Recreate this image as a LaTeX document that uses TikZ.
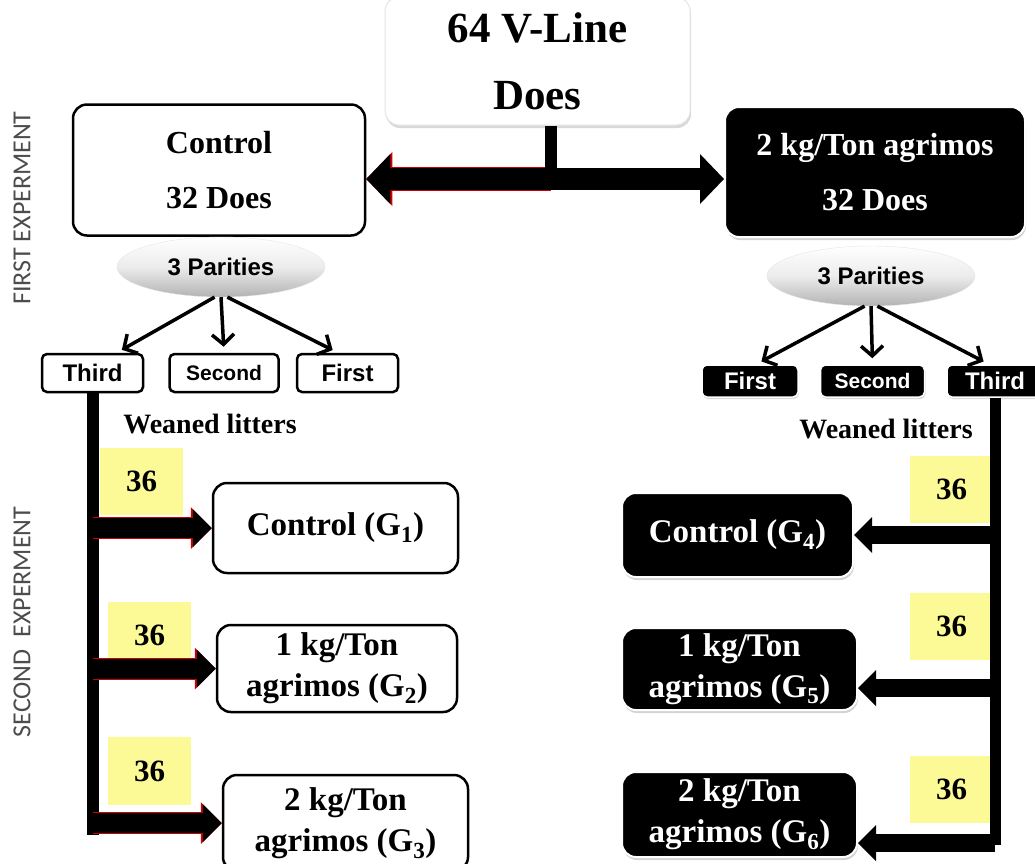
\documentclass[tikz,border=0pt]{standalone}
\usepackage{fontspec}
\setmainfont{Liberation Serif}
\setsansfont{Liberation Sans}
\newfontfamily\sidefont{Carlito}
\usepackage{tikz}
\usetikzlibrary{arrows.meta,shapes,positioning,shadows,calc}
\definecolor{numyellow}{RGB}{252,250,150}
\newcommand{\headfont}{\fontsize{43}{67}\selectfont\bfseries}
\newcommand{\boxfont}{\fontsize{32}{55}\selectfont\bfseries}
\newcommand{\grpfont}{\fontsize{33}{41}\selectfont\bfseries}
\newcommand{\tagfont}{\fontsize{24}{26}\selectfont\sffamily\bfseries}
\tikzset{
    whitebox/.style={draw, line width=2.5pt, rounded corners=14pt, fill=white, inner sep=0pt, align=center},
    blackbox/.style={draw=white, line width=2pt, rounded corners=14pt, fill=black, text=white, inner sep=0pt, align=center, drop shadow={opacity=0.35, shadow xshift=1pt, shadow yshift=-3pt}},
    parity/.style={ellipse, top color=white, bottom color=gray!60, middle color=gray!15, draw=gray!20, minimum width=208pt, minimum height=60pt, font=\fontsize{24}{26}\selectfont\sffamily\bfseries},
    wtag/.style={draw, line width=2.5pt, rounded corners=5pt, fill=white, minimum height=38pt, minimum width=101pt, inner sep=0pt, font=\tagfont},
    btag/.style={draw=white, line width=1.5pt, rounded corners=5pt, fill=black, text=white, minimum height=32pt, minimum width=96pt, inner sep=0pt, font=\tagfont, drop shadow={opacity=0.3, shadow xshift=1pt, shadow yshift=-2pt}},
    numbox/.style={fill=numyellow, minimum width=83pt, minimum height=67pt, inner sep=0pt, font=\fontsize{31}{32}\selectfont\bfseries},
    weaned/.style={font=\fontsize{28}{30}\selectfont\bfseries, inner sep=0pt},
    sidetext/.style={rotate=90, text=black!70, font=\sidefont\fontsize{26}{28}\selectfont},
    branch/.style={-{Straight Barb[length=10pt,width=22pt]}, line width=3.5pt, shorten >=6pt},
    fat/.style={line width=22pt, -{Triangle[length=24pt,width=50pt,line width=0pt]}},
    fatred/.style={fat, preaction={draw=red!80!black, line width=24pt, -{Triangle[length=26pt,width=54pt,line width=0pt]}}},
    slim/.style={line width=18pt, -{Triangle[length=18pt,width=36pt,line width=0pt]}},
    slimred/.style={line width=20pt, -{Triangle[length=19pt,width=38pt,line width=0pt]}, preaction={draw=red!80!black, line width=22pt, -{Triangle[length=21pt,width=42pt,line width=0pt]}}},
    bar/.style={line width=12pt}
}
\begin{document}
\begin{tikzpicture}[x=1pt, y=-1pt]
    \useasboundingbox (0,0) rectangle (1035,863);

    % Side labels
    \node[sidetext] (exp1) at (22,208) {FIRST EXPERMENT};
    \node[sidetext] (exp2) at (22,622) {SECOND~~EXPERMENT};

    % First experiment
    \node[whitebox, draw=gray!20, line width=1pt, minimum width=305pt, minimum height=128pt, font=\headfont,
          drop shadow={opacity=0.3, shadow xshift=1pt, shadow yshift=-3pt}] (top) at (537.5,61) {64 V-Line\\Does};
    \node[whitebox, minimum width=292pt, minimum height=131pt, font=\boxfont] (ctrl) at (219,170) {Control\\32 Does};
    \node[blackbox, minimum width=300pt, minimum height=130pt, font=\boxfont] (treat) at (875,172) {2 kg/Ton agrimos\\32 Does};

    \node[parity] (par1) at (221,267) {3 Parities};
    \node[parity] (par2) at (871,276) {3 Parities};

    \node[wtag] (third1) at (92.5,373) {Third};
    \node[wtag, minimum width=109pt, font=\fontsize{21}{22}\selectfont\sffamily\bfseries, right=24pt of third1] (second1) {Second};
    \node[wtag, right=16pt of second1] (first1) {First};

    \node[btag] (first2) at (750,381) {First};
    \node[btag, minimum width=104pt, font=\fontsize{21}{22}\selectfont\sffamily\bfseries, right=21pt of first2] (second2) {Second};
    \node[btag, right=21pt of second2] (third2) {Third};

    \node[weaned] (wean1) at (210,424) {Weaned litters};
    \node[weaned] (wean2) at (886,429) {Weaned litters};

    % Second experiment
    \node[numbox] (n1) at (141.5,481.5) {36};
    \node[numbox, minimum height=66pt] (n2) at (149.5,635) {36};
    \node[numbox, minimum height=68pt] (n3) at (149.5,771) {36};
    \node[numbox] (n4) at (951.5,489) {36};
    \node[numbox] (n5) at (951.5,626.5) {36};
    \node[numbox] (n6) at (951.5,789) {36};

    \node[whitebox, minimum width=245pt, minimum height=90pt, font=\grpfont] (g1) at (335.5,528) {Control (G\textsubscript{1})};
    \node[whitebox, minimum width=240pt, minimum height=87pt, font=\grpfont] (g2) at (337,668.5) {1 kg/Ton\\agrimos (G\textsubscript{2})};
    \node[whitebox, minimum width=245pt, minimum height=96pt, font=\grpfont] (g3) at (345.5,823) {2 kg/Ton\\agrimos (G\textsubscript{3})};
    \node[blackbox, minimum width=231pt, minimum height=84pt, font=\grpfont] (g4) at (737.5,535) {Control (G\textsubscript{4})};
    \node[blackbox, minimum width=235pt, minimum height=82pt, font=\grpfont] (g5) at (739.5,669) {1 kg/Ton\\agrimos (G\textsubscript{5})};
    \node[blackbox, minimum width=235pt, minimum height=85pt, font=\grpfont] (g6) at (739.5,814.5) {2 kg/Ton\\agrimos (G\textsubscript{6})};

    % Split of the does
    \coordinate (split) at (551,179);
    \draw[fatred] (split) -- (ctrl.east |- split);
    \draw[fat] (split) -- (treat.west |- split);
    \draw[bar] (split |- top.south) -- (split);

    % Parities
    \draw[branch] (par1.258) -- (third1.40);
    \draw[branch] (par1.south) -- (second1.north);
    \draw[branch] (par1.282) -- (first1.115);
    \draw[branch] (par2.258) -- (first2.70);
    \draw[branch] (par2.south) -- (second2.north);
    \draw[branch] (par2.282) -- (third2.110);

    % Weaned litters of the third parity
    \coordinate (lbot) at (third1.south |- 0,835);
    \coordinate (rbot) at (third2.south |- 0,845);
    \draw[bar] (third1.south) -- (lbot);
    \draw[bar, line width=11pt] (third2.south) -- (rbot);

    \draw[slimred] (lbot |- g1.west) -- (g1.west);
    \draw[slimred] (lbot |- g2.west) -- (g2.west);
    \draw[slimred] (lbot |- g3.west) -- (g3.west);

    \coordinate (r4) at (rbot |- 0,535);
    \coordinate (r5) at (rbot |- 0,688);
    \coordinate (r6) at (rbot |- 0,843);
    \draw[slim] (r4) -- (r4 -| g4.east);
    \draw[slim] (r5) -- (r5 -| g5.east);
    \draw[slim] (r6) -- (r6 -| g6.east);
\end{tikzpicture}
\end{document}
